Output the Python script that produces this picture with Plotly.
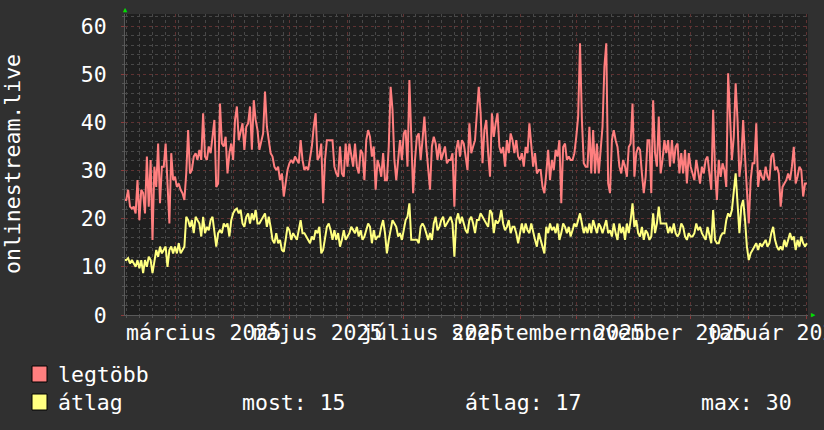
import plotly.graph_objects as go
import pandas as pd

start_date = "2025-02-02"
legtobb = [
    23.9,23.9,26,22.5,22.1,22.5,21.1,28,19.7,26,
    25.3,21.1,32.9,22.5,32.2,15.6,30.8,26.6,35.6,23.2,
    30.8,30.8,35.6,28.7,19,33.6,28,28.7,26.6,27.3,
    26,25.3,23.9,29.4,38.4,29.4,30.1,32.9,33.6,32.2,
    34.3,32.2,41.9,32.9,32.2,35,33.6,37,40.5,26.6,
    27.3,43.9,35.6,35,37,29.4,33.6,35.6,32.2,40.5,
    43.3,36.3,38.4,39.8,34.3,39.1,39.8,43.3,34.3,44.6,
    40.5,38.4,34.3,36.3,37.7,46.4,39.1,36.3,33.6,32.9,
    30.8,30.1,30.8,28,29.4,24.6,28,30.1,31.5,32.2,
    31.5,32.9,32.2,31.5,36.3,32.2,30.1,30.8,30.1,32.2,
    35,39.1,41.9,32.2,32.9,35.6,23.2,32.2,36.3,36.3,
    36.3,36.3,30.8,29.4,28.7,35,29.4,28.7,35.6,30.8,
    35.6,33.6,30.8,35.6,30.8,29.4,34.3,33.6,28,36.3,
    38.4,37,32.9,35,26,32.2,30.8,28.7,33.6,28,
    28,35,47.4,42.6,32.2,28,32.2,36.3,32.2,37.7,
    38.4,30.8,48.8,35.6,25.3,32.2,37,37.7,32.2,36.3,
    41.2,35,30.8,26,35,37,35.6,32.2,35.6,32.2,
    33.6,35,31.5,32.2,32.2,33.6,22.5,34.3,36.3,32.9,
    36.3,35.6,32.9,30.1,39.8,33.6,35,36.3,41.9,
    47.4,41.9,31.5,38.4,40.5,33.6,28.7,41.9,37,39.8,
    41.9,34.9,33.6,34.9,30.8,36.3,33.6,37.7,36.3,33.6,
    36.3,32.9,32.2,33.6,30.8,34.9,33.6,39.8,34.9,30.8,
    33.6,29.4,30.1,30.1,26.6,25.3,29.4,34.3,28,32.2,
    30.1,34.3,32.9,36.3,23.2,34.9,35.6,32.2,32.9,32.2,
    32.2,33.6,37,41.2,56.4,40.5,31.5,30.8,30.8,39.1,
    29.4,38.4,29.4,35.6,29.4,33.6,39.1,51.6,56.4,27.3,
    25.3,36.3,38.4,36.3,34.9,30.8,29.4,32.2,30.8,28.7,
    34.9,35.6,43.9,28.7,33.6,34.9,34.3,29.4,25.3,28.7,
    36.3,36.3,25.3,44.6,33.6,30.8,41.2,29.4,32.2,36.3,
    33.6,36.3,30.8,36.3,31.5,34.9,35.6,29.4,33.6,29.4,
    34.3,27.3,33.6,30.8,29.4,28,32.2,30.1,27.3,30.8,
    29.4,32.2,32.9,29.4,26,42.6,30.1,23.9,32.2,28.7,
    31.5,30.1,26.6,50.2,40.5,32.2,37,48.1,40.5,28.7,
    32.2,40.5,32.9,25.3,19,28,31.5,31.5,39.8,26.6,
    30.1,28.7,28,30.8,28.7,28,32.9,33.6,30.1,30.8,
    29.4,22.5,26.6,27.3,28,29.4,28,30.8,34.9,27.3,
    28.7,30.8,30.1,24.6,27.3,27.3,
]
atlag = [
    11.4,11.4,11.8,10.7,11.4,10.7,10,11.4,9.7,11.4,
    8.7,11.4,10,12.1,11.4,8.7,11.4,13.5,12.1,14.2,
    12.8,13.5,14.2,10,13.5,14.2,12.8,14.2,12.8,14.9,
    12.8,13.5,14.2,20.4,19.7,18.3,19.7,17,20.4,19.7,
    19,16.3,20.4,17,18.3,17.6,19.7,20.4,17.6,14.2,
    17,17.6,17,19,18.3,19,16.3,19.7,21.1,21.8,
    22.1,21.1,21.8,19,18.3,20.4,21.1,19,21.1,19.7,
    21.8,19,19,19.7,20.4,21.1,18.3,20.4,18.3,15.6,
    14.9,17,14.9,15.6,13.5,13.1,15.6,18.3,17.6,15.6,
    17,16.3,15.6,17.6,19.7,17,17,16.3,15.6,14.9,
    16.3,15.6,17.6,17,18.3,12.8,13.5,15.6,18.3,19,
    17.6,15.6,17.6,15.6,17,14.2,15.6,17.6,15.6,16.3,
    17,18.3,17.6,17,18.3,16.3,17.6,15.6,16.3,17.6,
    19,18.3,14.9,17.6,15.6,16.3,16.3,18.3,19.7,17,
    12.8,15.6,17.6,19.7,19,18.3,16.3,17,15.6,17.6,
    19.7,20.4,23.2,15.6,15.6,15.6,15.6,14.9,18.3,19,
    18.3,17,15.6,17,15.6,19,20.4,17.6,18.3,19.7,
    20.4,18.3,19,19.7,20.4,19,12.1,19.7,21.1,19,
    20.4,19,17.6,17,19.7,20.4,19,17,19.7,
    19.7,21.1,20.4,19.7,19,18.3,21.8,21.1,17,19.7,
    19,19.7,21.8,19,17.6,18.3,19.7,17,18.3,18.3,
    17,14.9,17,19,17,19,17.6,17,19,17,
    15.6,14.2,17,15.6,14.2,12.8,18.3,17,19,17.6,
    18.3,17,19,15.6,17,19,18.3,17,18.3,16.3,
    17.6,19,18.3,19.7,21.1,19,17,18.3,17,19,
    17,19.7,18.3,17,19,18.3,17,18.3,19.7,17,
    17.6,16.3,19,17,15.6,19,17,18.3,15.6,19,
    17,19.7,23.2,18.3,19.7,17,16.3,18.3,15.6,17.6,
    17,15.6,16.3,21.1,17,19,22.5,19,19,19,
    19,17,18.3,17,19,17,16.3,17,19,18.3,
    16.3,15.6,17,16.3,16.3,17,19,17.6,18.3,17,
    16.3,15.6,18.3,16.3,14.9,21.8,15.6,14.9,14.9,16.3,
    17,17,19.7,21.1,20.4,21.8,25.3,29.4,23.2,17,
    22.5,23.9,19.7,14.2,11.4,12.8,13.5,14.2,14.9,13.5,
    14.9,14.2,14.9,15.6,14.2,14.9,17,18.3,15.6,14.2,
    13.5,14.2,13.5,15.6,14.2,15.6,17,15.6,16.3,13.5,
    15.6,14.2,16.3,14.9,14.2,14.9,
]
dates = pd.date_range(start_date, periods=len(legtobb), freq="D")

x_range = ["2025-02-02 08:00", "2026-02-01 14:00"]
month_starts = pd.date_range("2025-02-01", "2026-02-01", freq="MS")
label_dates = ["2025-03-16", "2025-05-16", "2025-07-16", "2025-09-16", "2025-11-16", "2026-01-16"]
label_texts = ["március 2025", "május 2025", "július 2025", "szeptember 2025", "november 2025", "január 2026"]
y_title = "onlinestream.live"
legend_names = ["legtöbb", "átlag"]
stats = ["most: 15", "átlag: 17", "max: 30"]

RED = "#ff7f7f"
YEL = "#ffff80"
FONT = "DejaVu Sans Mono"
TXT = "#ffffff"
FS = 21.5

# plot area in pixels: left 125, right 808, top 14, bottom 315
PL, PR, PT, PB = 125, 808, 14, 315
PW, PH = PR - PL, PB - PT


def px(x):
    return (x - PL) / PW


def py(y):
    return (PB - y) / PH


fig = go.Figure()
fig.add_trace(go.Scatter(x=dates, y=legtobb, mode="lines", line=dict(color=RED, width=2), showlegend=False))
fig.add_trace(go.Scatter(x=dates, y=atlag, mode="lines", line=dict(color=YEL, width=2), showlegend=False))

fig.update_layout(
    width=824, height=430,
    margin=dict(l=PL, r=824 - PR, t=PT, b=430 - PB),
    paper_bgcolor="#303030", plot_bgcolor="#1f1f1f",
    showlegend=False,
    font=dict(family=FONT, color=TXT, size=FS),
)
fig.update_xaxes(
    range=x_range, tickmode="array", tickvals=month_starts, showticklabels=False,
    showgrid=True, gridcolor="#5e3232", griddash="dot", gridwidth=1,
    ticks="outside", ticklen=3, tickcolor="#8a3a3a",
    minor=dict(tick0="2025-02-03", dtick=7 * 86400000, showgrid=True, gridcolor="#484848",
               griddash="dot", gridwidth=1, ticks="outside", ticklen=2, tickcolor="#555555"),
    showline=True, linecolor="#5a5a5a", zeroline=False,
)
fig.update_yaxes(
    range=[0, 62.5], tick0=0, dtick=10,
    showgrid=True, gridcolor="#5e3232", griddash="dot", gridwidth=1,
    ticks="outside", ticklen=3, tickcolor="#8a3a3a",
    tickfont=dict(family=FONT, size=FS, color=TXT), ticklabelstandoff=10,
    minor=dict(dtick=2, showgrid=True, gridcolor="#484848", griddash="dot", gridwidth=1,
               ticks="outside", ticklen=2, tickcolor="#555555"),
    showline=True, linecolor="#5a5a5a", zeroline=False,
)

for d, t in zip(label_dates, label_texts):
    fig.add_annotation(x=d, y=0, xref="x", yref="paper", text=t, showarrow=False,
                       xanchor="center", yanchor="top", yshift=-3,
                       font=dict(family=FONT, size=FS, color=TXT))

fig.add_annotation(x=px(12), y=py(164), xref="paper", yref="paper", text=y_title, textangle=-90,
                   showarrow=False, xanchor="center", yanchor="middle",
                   font=dict(family=FONT, size=FS, color=TXT))

# legend
for i, (name, col) in enumerate(zip(legend_names, [RED, YEL])):
    top = 366 + 28 * i
    fig.add_shape(type="rect", xref="paper", yref="paper",
                  x0=px(32), x1=px(47), y0=py(top), y1=py(top + 16),
                  fillcolor=col, line=dict(color="#000000", width=1))
    fig.add_annotation(x=px(56), y=py(top + 8), xref="paper", yref="paper", text=name,
                       showarrow=False, xanchor="left", yanchor="middle",
                       font=dict(family=FONT, size=FS, color=TXT))
for xp, s in zip([240, 463, 699], stats):
    fig.add_annotation(x=px(xp), y=py(402), xref="paper", yref="paper", text=s,
                       showarrow=False, xanchor="left", yanchor="middle",
                       font=dict(family=FONT, size=FS, color=TXT))

# axis arrows
fig.add_annotation(x=0, y=1, xref="paper", yref="paper", text="▲", showarrow=False,
                   xanchor="center", yanchor="bottom", yshift=-2, font=dict(size=7, color="#00e000"))
fig.add_annotation(x=1, y=0, xref="paper", yref="paper", text="▶", showarrow=False,
                   xanchor="left", yanchor="middle", xshift=1, font=dict(size=7, color="#00e000"))

fig.write_html("out.html", config={"displayModeBar": False},
               post_script="document.body.style.margin='0px';document.body.style.overflow='hidden';")
